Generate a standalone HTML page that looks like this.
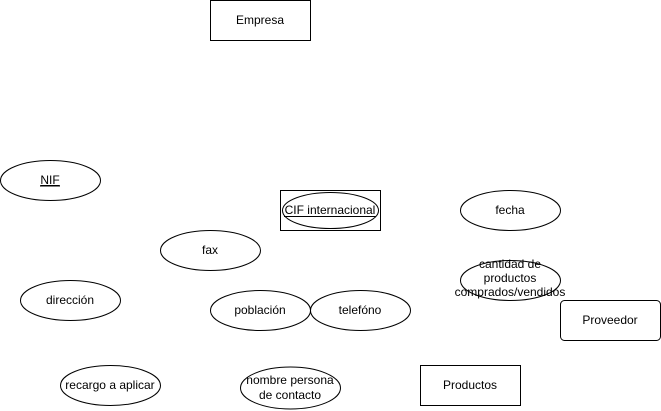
<!DOCTYPE html>
<html><head><meta charset="utf-8"><style>html,body{margin:0;padding:0;background:#fff}svg{display:block}</style></head>
<body>
<svg width="661" height="411" viewBox="0 0 661 411" xmlns="http://www.w3.org/2000/svg" font-family="Liberation Sans, sans-serif" font-size="12" fill="none" stroke="#000">
<rect x="210.5" y="0.5" width="100" height="40" />
<text x="260" y="24" text-anchor="middle" fill="#000" stroke="none">Empresa</text>
<ellipse cx="50.5" cy="180.5" rx="50" ry="20"/>
<text x="50" y="184" text-anchor="middle" fill="#000" stroke="none" text-decoration="underline">NIF</text>
<line x1="40" y1="186" x2="60" y2="186" stroke-width="1"/>
<rect x="280.5" y="190.5" width="100" height="40"/>
<ellipse cx="330.5" cy="210.5" rx="48" ry="18"/>
<text x="330" y="214" text-anchor="middle" fill="#000" stroke="none">CIF internacional</text>
<line x1="284" y1="216.5" x2="376" y2="216.5"/>
<ellipse cx="510.5" cy="210.5" rx="50" ry="20"/>
<text x="510" y="214" text-anchor="middle" fill="#000" stroke="none">fecha</text>
<ellipse cx="210.5" cy="250.5" rx="50" ry="20"/>
<text x="210" y="254" text-anchor="middle" fill="#000" stroke="none">fax</text>
<ellipse cx="510.5" cy="280.5" rx="50" ry="20"/>
<text text-anchor="middle" fill="#000" stroke="none"><tspan x="510" y="268">cantidad de</tspan><tspan x="510" y="282">productos</tspan><tspan x="510" y="296">comprados/vendidos</tspan></text>
<ellipse cx="70.5" cy="300.5" rx="50" ry="20"/>
<text x="70" y="304" text-anchor="middle" fill="#000" stroke="none">dirección</text>
<ellipse cx="260.5" cy="310.5" rx="50" ry="20"/>
<text x="260" y="314" text-anchor="middle" fill="#000" stroke="none">población</text>
<ellipse cx="360.5" cy="310.5" rx="50" ry="20"/>
<text x="360" y="314" text-anchor="middle" fill="#000" stroke="none">telefóno</text>
<rect x="560.5" y="300.5" width="100" height="40" rx="4"/>
<text x="610" y="324" text-anchor="middle" fill="#000" stroke="none">Proveedor</text>
<ellipse cx="110.5" cy="385.5" rx="50" ry="20"/>
<text x="110" y="389" text-anchor="middle" fill="#000" stroke="none">recargo a aplicar</text>
<ellipse cx="290.5" cy="388" rx="50" ry="21"/>
<text text-anchor="middle" fill="#000" stroke="none"><tspan x="290" y="384">nombre persona</tspan><tspan x="290" y="399">de contacto</tspan></text>
<rect x="420.5" y="365.5" width="100" height="40"/>
<text x="470" y="389" text-anchor="middle" fill="#000" stroke="none">Productos</text>
</svg>
</body></html>
